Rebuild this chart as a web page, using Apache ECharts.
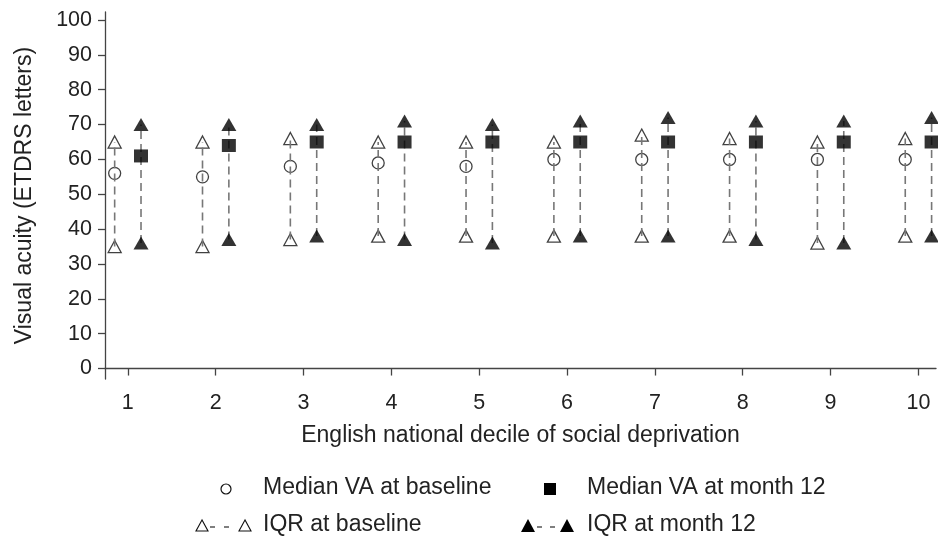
<!DOCTYPE html>
<html>
<head>
<meta charset="utf-8">
<script src="https://cdn.jsdelivr.net/npm/echarts@6/dist/echarts.min.js"></script>
<style>
  html, body { margin: 0; padding: 0; background: #fff; }
  #chart1 { width: 938px; height: 540px; }
</style>
</head>
<body>
<div id="chart1"></div>
<script>
// deciles of social deprivation
var deciles = [1, 2, 3, 4, 5, 6, 7, 8, 9, 10];
// baseline: median and IQR
var baseMedian = [56, 55, 58, 59, 58, 60, 60, 60, 60, 60];
var baseQ1 = [35, 35, 37, 38, 38, 38, 38, 38, 36, 38];
var baseQ3 = [65, 65, 66, 65, 65, 65, 67, 66, 65, 66];
// month 12: median and IQR
var m12Median = [61, 64, 65, 65, 65, 65, 65, 65, 65, 65];
var m12Q1 = [36, 37, 38, 37, 36, 38, 38, 37, 36, 38];
var m12Q3 = [70, 70, 70, 71, 70, 71, 72, 71, 71, 72];
// tick labels
var xTicks = [1, 2, 3, 4, 5, 6, 7, 8, 9, 10];
var yTicks = [0, 10, 20, 30, 40, 50, 60, 70, 80, 90, 100];

document.addEventListener('DOMContentLoaded', function () {
  var myChart = echarts.init(document.getElementById('chart1'));
  var FONT = '"Liberation Sans", Arial, sans-serif';
  var TXT = '#222';
  var OFF = 0.15;

  function pts(vals, off) {
    return deciles.map(function (d, i) { return [d + off, vals[i]]; });
  }
  function ranges(lo, hi, off) {
    return deciles.map(function (d, i) { return [d + off, lo[i], hi[i]]; });
  }
  // dashed vertical segment from Q1 to Q3
  function dashRender(params, api) {
    var x = api.value(0);
    var p1 = api.coord([x, api.value(1)]);
    var p2 = api.coord([x, api.value(2)]);
    return {
      type: 'line',
      shape: { x1: p1[0], y1: p1[1], x2: p2[0], y2: p2[1] },
      style: { stroke: '#777', lineWidth: 1.6, lineDash: [8, 5] }
    };
  }

  var option = {
    backgroundColor: '#fff',
    animation: false,
    textStyle: { fontFamily: FONT },
    grid: { left: 105, right: 2, top: 12, bottom: 161 },
    xAxis: {
      type: 'value',
      min: 0.74,
      max: 10.2,
      name: 'English national decile of social deprivation',
      nameLocation: 'middle',
      nameGap: 45,
      nameTextStyle: { color: TXT, fontSize: 23, fontFamily: FONT },
      axisLine: { lineStyle: { color: '#444', width: 1.3 } },
      axisTick: { customValues: xTicks, length: 7, lineStyle: { color: '#444', width: 1.3 } },
      axisLabel: { customValues: xTicks, color: TXT, fontSize: 21.5, margin: 13, fontFamily: FONT },
      splitLine: { show: false }
    },
    yAxis: {
      type: 'value',
      min: -3,
      max: 102.3,
      name: 'Visual acuity (ETDRS letters)',
      nameLocation: 'middle',
      nameGap: 69,
      nameTextStyle: { color: TXT, fontSize: 23, fontFamily: FONT },
      axisLine: { show: true, lineStyle: { color: '#444', width: 1.3 } },
      axisTick: { show: true, customValues: yTicks, length: 7, lineStyle: { color: '#444', width: 1.3 } },
      axisLabel: { customValues: yTicks, color: TXT, fontSize: 21.5, margin: 13, fontFamily: FONT },
      splitLine: { show: false }
    },
    series: [
      {
        name: 'IQR at baseline line',
        type: 'custom',
        z: 4,
        renderItem: dashRender,
        encode: { x: 0, y: [1, 2] },
        data: ranges(baseQ1, baseQ3, -OFF)
      },
      {
        name: 'IQR at month 12 line',
        type: 'custom',
        z: 1,
        renderItem: dashRender,
        encode: { x: 0, y: [1, 2] },
        data: ranges(m12Q1, m12Q3, OFF)
      },
      {
        name: 'IQR at baseline',
        type: 'scatter',
        symbol: 'triangle',
        symbolSize: [13, 12],
        itemStyle: { color: '#fff', borderColor: '#111', borderWidth: 1.3 },
        data: pts(baseQ1, -OFF).concat(pts(baseQ3, -OFF))
      },
      {
        name: 'IQR at month 12',
        type: 'scatter',
        symbol: 'triangle',
        symbolSize: [15, 13],
        itemStyle: { color: '#000' },
        data: pts(m12Q1, OFF).concat(pts(m12Q3, OFF))
      },
      {
        name: 'Median VA at baseline',
        type: 'scatter',
        symbol: 'circle',
        symbolSize: 12,
        itemStyle: { color: 'rgba(255,255,255,0)', borderColor: '#111', borderWidth: 1.3 },
        data: pts(baseMedian, -OFF)
      },
      {
        name: 'Median VA at month 12',
        type: 'scatter',
        symbol: 'rect',
        symbolSize: [14, 13],
        itemStyle: { color: '#000' },
        data: pts(m12Median, OFF)
      }
    ],
    graphic: [
      // legend row 1
      { type: 'circle', shape: { cx: 226, cy: 489, r: 5 }, style: { fill: '#fff', stroke: '#111', lineWidth: 1.2 } },
      { type: 'text', left: 263, top: 476, style: { text: 'Median VA at baseline', fill: TXT, font: '23px ' + FONT } },
      { type: 'rect', shape: { x: 544, y: 483, width: 12, height: 12 }, style: { fill: '#000' } },
      { type: 'text', left: 587, top: 476, style: { text: 'Median VA at month 12', fill: TXT, font: '23px ' + FONT } },
      // legend row 2
      { type: 'polygon', shape: { points: [[202, 520], [196, 531], [208, 531]] }, style: { fill: '#fff', stroke: '#111', lineWidth: 1.1 } },
      { type: 'line', shape: { x1: 210, y1: 527, x2: 238, y2: 527 }, style: { stroke: '#555', lineWidth: 1.3, lineDash: [5, 9] } },
      { type: 'polygon', shape: { points: [[245, 520], [239, 531], [251, 531]] }, style: { fill: '#fff', stroke: '#111', lineWidth: 1.1 } },
      { type: 'text', left: 263, top: 513, style: { text: 'IQR at baseline', fill: TXT, font: '23px ' + FONT } },
      { type: 'polygon', shape: { points: [[528, 519], [521, 532], [535, 532]] }, style: { fill: '#000' } },
      { type: 'line', shape: { x1: 537, y1: 527, x2: 560, y2: 527 }, style: { stroke: '#555', lineWidth: 1.3, lineDash: [5, 8] } },
      { type: 'polygon', shape: { points: [[567, 519], [560, 532], [574, 532]] }, style: { fill: '#000' } },
      { type: 'text', left: 587, top: 513, style: { text: 'IQR at month 12', fill: TXT, font: '23px ' + FONT } }
    ]
  };

  myChart.setOption(option);
});
</script>
</body>
</html>
